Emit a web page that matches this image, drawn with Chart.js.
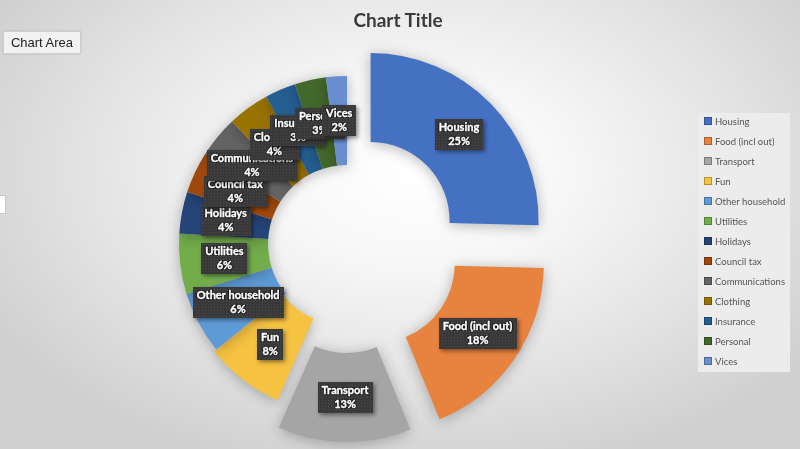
<!DOCTYPE html>
<html>
<head>
<meta charset="utf-8">
<script src="https://cdn.jsdelivr.net/npm/chart.js@4/dist/chart.umd.min.js"></script>
<style>
  html, body { margin: 0; padding: 0; }
  #wrap {
    position: relative; width: 800px; height: 449px; overflow: hidden;
    background: radial-gradient(ellipse 62% 70% at 52% 38%, #ffffff 0%, #f7f7f7 30%, #e4e4e4 65%, #cfcfcf 100%);
  }
  #c { position: absolute; left: 0; top: 0; }
  #title {
    position: absolute; left: 0; width: 796px; top: 8px; text-align: center;
    font: bold 19px Lato, "Open Sans", sans-serif; color: #3a3a3a;
  }
  #tag {
    position: absolute; left: 3px; top: 31px; width: 76px; height: 21px;
    background: #f2f2f2; border: 1px solid #cfcfcf; box-shadow: 0 0 2px rgba(0,0,0,0.15);
    font: 13px "Liberation Sans", Arial, sans-serif; color: #222; line-height: 21px; text-align: center;
  }
  #edge {
    position: absolute; left: 0; top: 195px; width: 5px; height: 17px; background: #fff;
    border: 1px solid #c8c8c8; border-left: none;
  }
  #legend {
    position: absolute; left: 698px; top: 113px; width: 92px; height: 259px;
    background: #ececec;
  }
  .li { position: absolute; left: 6px; height: 20px; line-height: 20px;
    font: 9.5px Lato, "Open Sans", sans-serif; color: #555555; white-space: nowrap; }
  .li i { display: inline-block; width: 6px; height: 6px; margin-right: 3px; border: 0.5px solid rgba(0,0,0,0.25); }
</style>
</head>
<body>
<div id="wrap">
  <canvas id="c" width="800" height="449"></canvas>
  <div id="title">Chart Title</div>
  <div id="tag">Chart Area</div>
  <div id="edge"></div>
  <div id="legend"></div>
</div>
<script>
// ---- data ----
const categories = ["Housing", "Food (incl out)", "Transport", "Fun", "Other household", "Utilities",
  "Holidays", "Council tax", "Communications", "Clothing", "Insurance", "Personal", "Vices"];
const shares = [25.4, 18.4, 12.8, 7.6, 6.0, 5.8, 4, 4, 4, 4, 3, 3, 2];
const colors = ["#4571C3", "#E8823F", "#A5A5A5", "#F6C242", "#5E9BD6", "#72AC4B",
  "#264478", "#9E480E", "#636363", "#997300", "#255E91", "#43682B", "#698ED0"];
const explodePx = [33, 35, 30, 3, 0, 0, 0, 0, 0, 0, 0, 0, 0];

// legend (HTML)
const lg = document.getElementById('legend');
categories.forEach((name, i) => {
  const d = document.createElement('div');
  d.className = 'li';
  d.style.top = (i * 20 + 3) + 'px';
  d.innerHTML = '<i style="background:' + colors[i] + '"></i>' + name;
  lg.appendChild(d);
});

// dotted pattern for label boxes
function makePattern(ctx) {
  const pc = document.createElement('canvas');
  pc.width = 3; pc.height = 3;
  const p = pc.getContext('2d');
  p.fillStyle = '#393939'; p.fillRect(0, 0, 3, 3);
  p.fillStyle = '#4b4b4b'; p.fillRect(1, 1, 1, 1);
  return ctx.createPattern(pc, 'repeat');
}

// explode selected slices by a pure translation along their bisector
const explodePlugin = {
  id: 'explode',
  beforeDatasetsDraw(chart) {
    const ctx = chart.ctx;
    ctx.save();
    ctx.shadowColor = 'rgba(0,0,0,0.28)';
    ctx.shadowBlur = 14;
    ctx.shadowOffsetX = 0;
    ctx.shadowOffsetY = 2;
    chart.getDatasetMeta(0).data.forEach((arc, i) => {
      const t = explodePx[i] || 0;
      const mid = (arc.startAngle + arc.endAngle) / 2;
      arc._ox = arc.x; arc._oy = arc.y;
      arc.x = arc._ox + Math.cos(mid) * t;
      arc.y = arc._oy + Math.sin(mid) * t;
    });
  },
  afterDatasetsDraw(chart) {
    chart.getDatasetMeta(0).data.forEach((arc) => {
      arc.x = arc._ox; arc.y = arc._oy;
    });
    chart.ctx.restore();
  }
};

const labelPlugin = {
  id: 'excelLabels',
  afterDraw(chart) {
    const ctx = chart.ctx;
    const meta = chart.getDatasetMeta(0);
    const data = chart.data.datasets[0].data;
    const total = data.reduce((a, b) => a + b, 0);
    const pattern = makePattern(ctx);
    ctx.save();
    ctx.font = 'bold 11px Lato, "Open Sans", sans-serif';
    ctx.textAlign = 'center';
    ctx.textBaseline = 'middle';
    ctx.lineJoin = 'round';
    meta.data.forEach((arc, i) => {
      const t = explodePx[i] || 0;
      const mid = (arc.startAngle + arc.endAngle) / 2;
      const rad = (arc.innerRadius + arc.outerRadius) / 2 + t;
      const x = arc.x + Math.cos(mid) * rad;
      const y = arc.y + Math.sin(mid) * rad;
      const l1 = chart.data.labels[i];
      const l2 = Math.round(data[i] / total * 100) + '%';
      const w = Math.max(ctx.measureText(l1).width, ctx.measureText(l2).width) + 8;
      const h = 31;
      ctx.save();
      ctx.shadowColor = 'rgba(0,0,0,0.45)';
      ctx.shadowBlur = 4; ctx.shadowOffsetX = 2; ctx.shadowOffsetY = 2;
      ctx.fillStyle = pattern;
      ctx.fillRect(Math.round(x - w / 2), Math.round(y - h / 2), Math.round(w), h);
      ctx.restore();
      ctx.save();
      ctx.strokeStyle = 'rgba(20,20,20,0.85)';
      ctx.lineWidth = 2.2;
      ctx.strokeText(l1, x, y - 7);
      ctx.strokeText(l2, x, y + 7);
      ctx.fillStyle = '#ffffff';
      ctx.fillText(l1, x, y - 7);
      ctx.fillText(l2, x, y + 7);
      ctx.lineWidth = 0.35;
      ctx.strokeStyle = '#ffffff';
      ctx.strokeText(l1, x, y - 7);
      ctx.strokeText(l2, x, y + 7);
      ctx.restore();
    });
    ctx.restore();
  }
};

new Chart(document.getElementById('c'), {
  type: 'doughnut',
  data: {
    labels: categories,
    datasets: [{
      data: shares,
      backgroundColor: colors,
      borderWidth: 0
    }]
  },
  options: {
    responsive: false,
    animation: false,
    radius: 168,
    cutout: '47%',
    layout: { padding: { left: 0, right: 106, top: 39, bottom: 0 } },
    plugins: {
      legend: { display: false },
      title: { display: false },
      tooltip: { enabled: false }
    }
  },
  plugins: [explodePlugin, labelPlugin]
});
</script>
</body>
</html>
